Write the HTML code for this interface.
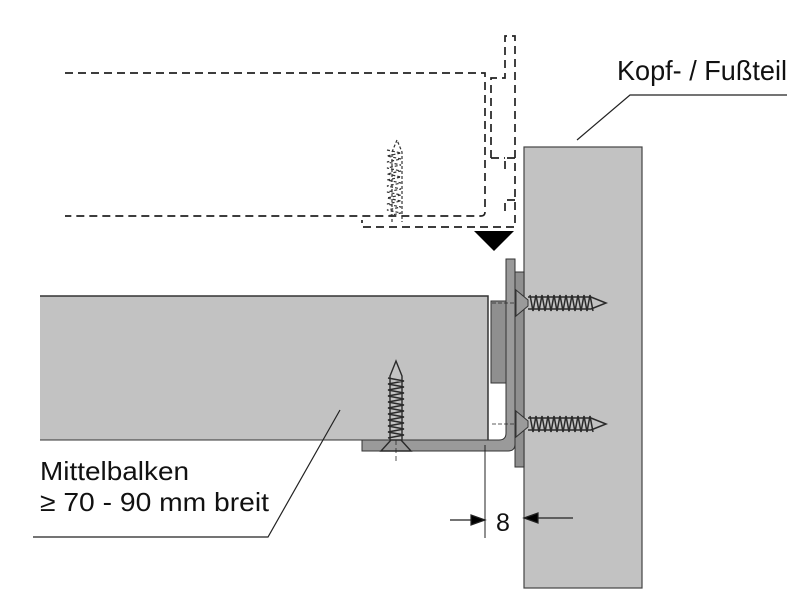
<!DOCTYPE html>
<html><head><meta charset="utf-8"><style>
html,body{margin:0;padding:0;background:#fff;}
svg{display:block;}
text{font-family:"Liberation Sans",sans-serif;fill:#111;}
</style></head><body>
<svg width="800" height="612" viewBox="0 0 800 612" xmlns="http://www.w3.org/2000/svg">
<!-- Kopfteil -->
<rect x="524" y="147" width="118" height="441" fill="#c2c2c2" stroke="#444" stroke-width="1.2"/>
<!-- Mittelbalken -->
<rect x="40" y="296" width="448" height="144" fill="#c2c2c2"/>
<path d="M40 296 H488 V440" fill="none" stroke="#333" stroke-width="1.5"/>
<line x1="40" y1="440" x2="488" y2="440" stroke="#333" stroke-width="1"/>
<!-- plates -->
<rect x="515" y="272" width="9" height="195" fill="#8f8f8f" stroke="#333" stroke-width="1"/>
<path d="M506 259 H515 V444 Q515 451 508 451 H362 V440 H499 Q506 440 506 433 Z" fill="#9a9a9a" stroke="#333" stroke-width="1"/>
<rect x="491" y="301" width="15" height="82" fill="#8f8f8f" stroke="#333" stroke-width="1"/>
<!-- horizontal screws -->
<g stroke="#333" stroke-width="1" fill="#9a9a9a">
 <path d="M516 290 L528 300 V306 L516 316 Z"/>
 <path d="M516 411 L528 421 V427 L516 437 Z"/>
</g>
<g fill="none" stroke="#2a2a2a" stroke-width="1.5">
 <path d="M528 297 L591 297 L606 303 L591 309 L528 309"/>
 <path d="M530 295 l3 16 l3 -16 l3 16 l3 -16 l3 16 l3 -16 l3 16 l3 -16 l3 16 l3 -16 l3 16 l3 -16 l3 16 l3 -16 l3 16 l3 -16 l3 16 l3 -16 l3 16 l3 -16 l3 16"/>
 <path d="M528 418 L591 418 L606 424 L591 430 L528 430"/>
 <path d="M530 416 l3 16 l3 -16 l3 16 l3 -16 l3 16 l3 -16 l3 16 l3 -16 l3 16 l3 -16 l3 16 l3 -16 l3 16 l3 -16 l3 16 l3 -16 l3 16 l3 -16 l3 16 l3 -16 l3 16"/>
 <path d="M492 303 H516 M492 424 H516" stroke-dasharray="4 2" stroke-width="0.8"/>
</g>
<!-- vertical screw -->
<g fill="none" stroke="#2a2a2a" stroke-width="1.4">
 <path d="M381 451 L391 440 H401 L411 451 Z" fill="#9a9a9a"/>
 <path d="M390 440 V376 L396 361 L402 376 V440"/>
 <path d="M388 378 l16 3 l-16 3 l16 3 l-16 3 l16 3 l-16 3 l16 3 l-16 3 l16 3 l-16 3 l16 3 l-16 3 l16 3 l-16 3 l16 3 l-16 3 l16 3 l-16 3 l16 3 l-16 3"/>
 <path d="M396 440 V462" stroke-dasharray="5 3" stroke-width="0.8"/>
</g>
<!-- dashed outline of upper part -->
<g fill="none" stroke="#222" stroke-width="1.7" stroke-dasharray="8 5">
 <path d="M65 73 H485 V212 Q485 216 481 216 H65"/>
 <path d="M491 158 V78 H505 V36 H515 V227 H362 V220"/>
 <path d="M491 158 H505"/>
 <path d="M515 158 H505 V170 M515 200 H505 V214"/>
</g>
<g fill="none" stroke="#333" stroke-width="1.2" stroke-dasharray="3 2">
 <path d="M392 222 V152 L397 140 L402 152 V222"/>
 <path d="M387 150 l14 3 l-14 3 l14 3 l-14 3 l14 3 l-14 3 l14 3 l-14 3 l14 3 l-14 3 l14 3 l-14 3 l14 3 l-14 3 l14 3 l-14 3 l14 3 l-14 3 l14 3 l-14 3 l14 3 l-14 3"/>
</g>
<!-- triangle -->
<path d="M474 231 H514 L494 251 Z" fill="#000"/>
<!-- dimension -->
<g stroke="#222" stroke-width="1.2" fill="#000">
 <line x1="485" y1="445" x2="485" y2="538" stroke-width="1"/>
 <line x1="450" y1="520" x2="485" y2="520"/>
 <path d="M485 520 L471 515 V525 Z"/>
 <line x1="524" y1="518" x2="573" y2="518"/>
 <path d="M524 518 L538 513 V523 Z"/>
</g>
<text x="496" y="531" font-size="25">8</text>
<!-- leaders -->
<path d="M577 140 L630 95 H787" fill="none" stroke="#222" stroke-width="1.2"/>
<path d="M340 410 L268 537 H33" fill="none" stroke="#222" stroke-width="1.2"/>
<text x="617" y="80" font-size="28" textLength="170" lengthAdjust="spacingAndGlyphs">Kopf- / Fußteil</text>
<text x="40" y="480" font-size="26" textLength="149" lengthAdjust="spacingAndGlyphs">Mittelbalken</text>
<text x="40" y="511" font-size="26" textLength="229" lengthAdjust="spacingAndGlyphs">≥ 70 - 90 mm breit</text>
</svg>
</body></html>
